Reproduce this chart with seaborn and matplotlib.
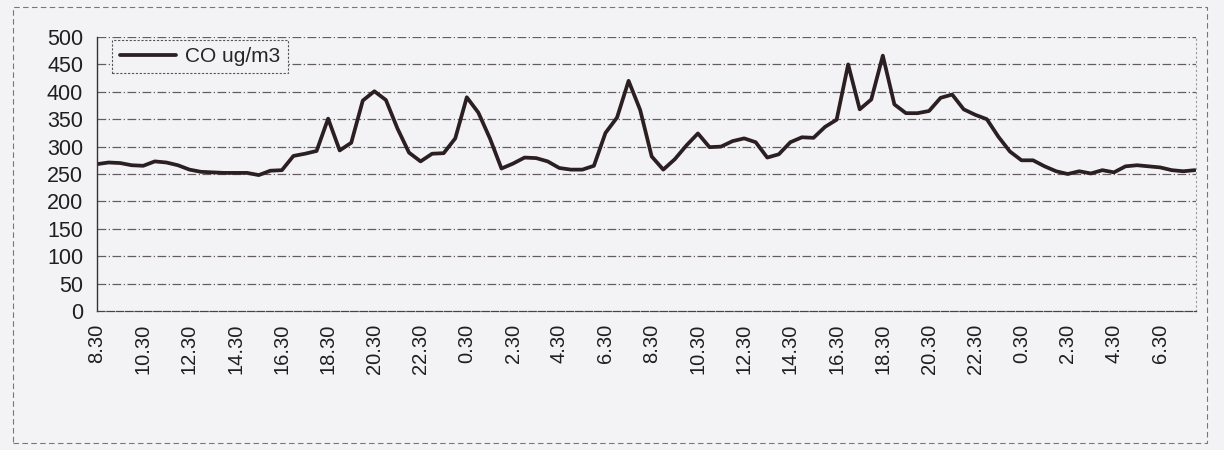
"""Recreate the scanned CO concentration line chart (half-hourly readings)."""
import matplotlib
matplotlib.use("Agg")
import matplotlib.pyplot as plt
import numpy as np
import seaborn as sns
from matplotlib.patches import Rectangle

# half-hourly CO readings, starting at 8.30
co_values = [
    268, 271, 270, 266, 265, 273, 271, 266, 258, 254, 253, 252,
    252, 252, 248, 256, 257, 283, 287, 292, 351, 293, 307, 384,
    401, 385, 333, 289, 273, 287, 288, 315, 390, 362, 315, 260,
    269, 280, 279, 273, 261, 258, 258, 265, 325, 353, 420, 367,
    282, 258, 277, 302, 324, 299, 300, 310, 315, 308, 280, 286,
    308, 317, 316, 336, 349, 450, 368, 386, 466, 377, 361, 361,
    365, 389, 395, 368, 358, 350, 318, 291, 275, 275, 264, 255,
    250, 255, 251, 257, 253, 264, 266, 264, 262, 257, 255, 257,
]
tick_labels = [
    "8.30", "10.30", "12.30", "14.30", "16.30", "18.30", "20.30", "22.30",
    "0.30", "2.30", "4.30", "6.30", "8.30", "10.30", "12.30", "14.30",
    "16.30", "18.30", "20.30", "22.30", "0.30", "2.30", "4.30", "6.30",
]
y_ticks = list(range(0, 501, 50))
series_name = "CO ug/m3"

sns.set_style("white")
plt.rcParams["font.family"] = ["Liberation Sans", "DejaVu Sans"]

paper = "#f3f3f5"
ink = "#2b1f22"

fig = plt.figure(figsize=(12.24, 4.5), dpi=100, facecolor=paper)
ax = fig.add_axes([97 / 1224, 1 - 311 / 450, 1099 / 1224, 274 / 450])
ax.set_facecolor(paper)

steps = np.arange(len(co_values))
sns.lineplot(x=steps, y=co_values, ax=ax, color=ink, linewidth=2.7, label=series_name)

ax.set_xlim(0, 95.1)
ax.set_ylim(0, 500)
ax.set_yticks(y_ticks)
ax.set_yticklabels([str(v) for v in y_ticks], fontsize=15.5, color="#1f1f1f")
ax.set_xticks(np.arange(0, len(co_values), 4))
ax.set_xticklabels(tick_labels, rotation=90, fontsize=14.5, color="#1f1f1f")
ax.set_xticks(np.arange(2, len(co_values), 4), minor=True)
ax.tick_params(axis="x", which="both", direction="inout", length=8, width=0.8, color="#444444", pad=5)
ax.tick_params(axis="y", direction="out", length=5, width=0.8, color="#444444", pad=5)
ax.set_xlabel("")
ax.set_ylabel("")

for v in y_ticks[1:]:
    ax.axhline(v, color="#4a4246", linewidth=0.9, linestyle=(0, (7, 2, 1, 2)), alpha=0.85, zorder=0)

ax.spines["top"].set_visible(False)
ax.spines["left"].set_color("#333333")
ax.spines["left"].set_linewidth(1.0)
ax.spines["bottom"].set_color("#444444")
ax.spines["bottom"].set_linewidth(0.9)
ax.spines["bottom"].set_linestyle((0, (6, 1.5)))
ax.spines["right"].set_color("#999999")
ax.spines["right"].set_linewidth(0.8)
ax.spines["right"].set_linestyle((0, (1, 3)))

leg = ax.legend(loc="upper left", bbox_to_anchor=(0.014, 0.99), borderaxespad=0,
                fontsize=15, handlelength=2.7, frameon=True, fancybox=False,
                borderpad=0.35, handletextpad=0.45)
frame = leg.get_frame()
frame.set_edgecolor("#555555")
frame.set_linestyle((0, (2, 1.5)))
frame.set_linewidth(0.8)
frame.set_facecolor(paper)
frame.set_alpha(1)

fig.patches.append(Rectangle((13 / 1224, 7 / 450), 1194 / 1224, 436 / 450, transform=fig.transFigure,
                             fill=False, edgecolor="#777777", linewidth=0.8, linestyle=(0, (5, 3))))

fig.savefig("out.png", dpi=100, facecolor=paper)
plt.close(fig)
